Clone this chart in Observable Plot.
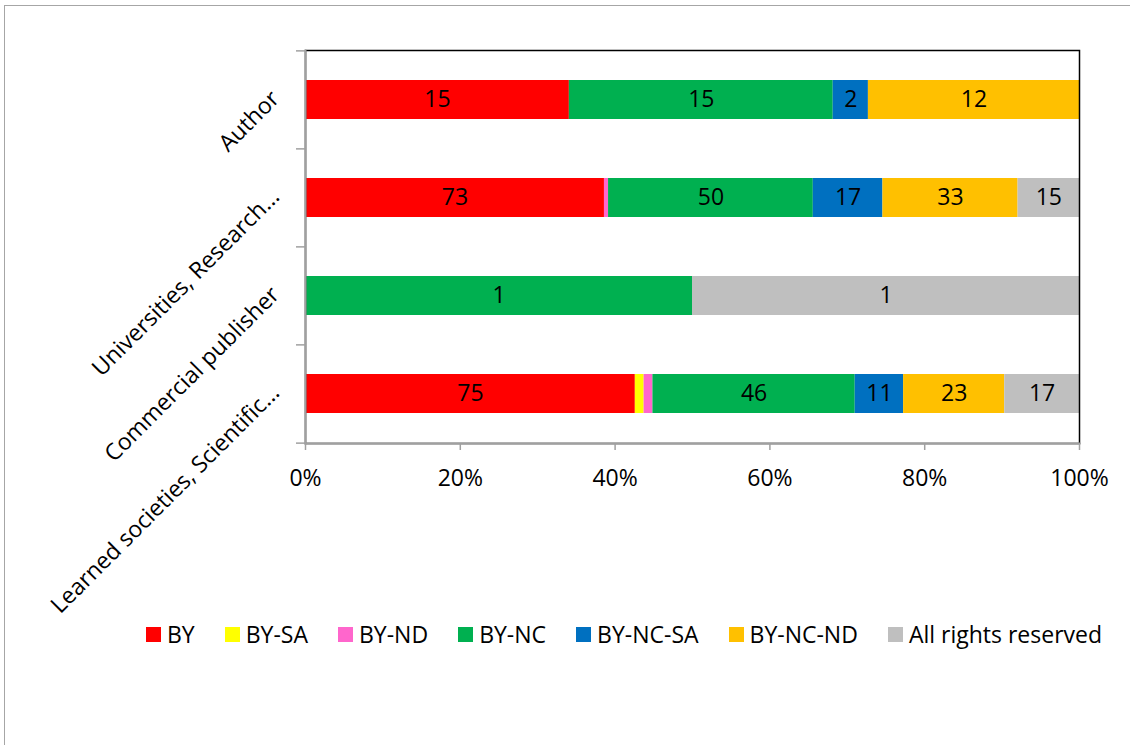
<!DOCTYPE html>
<html><head><meta charset="utf-8">
<script src="https://cdn.jsdelivr.net/npm/d3@7"></script>
<script src="https://cdn.jsdelivr.net/npm/@observablehq/plot@0.6"></script>
<style>
body{margin:0;background:#fff;font-family:"Open Sans",Lato,sans-serif;}
#frame{position:absolute;left:4px;top:5px;width:1140px;height:760px;border:1px solid #a6a6a6;box-sizing:border-box;}
#chart{position:absolute;left:0;top:0;}
#legend{position:absolute;left:146px;top:618px;display:flex;align-items:center;font-size:23px;line-height:32px;color:#000;white-space:nowrap;}
.item{display:flex;align-items:center;margin-right:30px}
.sw{width:15px;height:15px;margin-right:6px}
</style></head><body>
<div id="frame"></div><div id="chart"></div><div id="legend"></div>
<script>
const categories = ["Author", "Universities, Research...", "Commercial publisher", "Learned societies, Scientific..."];
const licenses = ["BY", "BY-SA", "BY-ND", "BY-NC", "BY-NC-SA", "BY-NC-ND", "All rights reserved"];
const colors = ["#FF0000", "#FFFF00", "#FF66CC", "#00B050", "#0070C0", "#FFC000", "#BFBFBF"];
const authorValues = [15, 0, 0, 15, 2, 12, 0];
const universitiesValues = [73, 0, 1, 50, 17, 33, 15];
const commercialValues = [0, 0, 0, 1, 0, 0, 1];
const learnedValues = [75, 2, 2, 46, 11, 23, 17];
const xTicks = [0, 0.2, 0.4, 0.6, 0.8, 1];

const seriesByCategory = [authorValues, universitiesValues, commercialValues, learnedValues];
const rows = [];
categories.forEach((c, i) => {
  const vals = seriesByCategory[i];
  const total = d3.sum(vals);
  vals.forEach((v, j) => {
    if (v > 0) rows.push({category: c, license: licenses[j], value: v, share: v / total});
  });
});

const W = 1130, H = 620, mt = 50, mb = 177, ml = 305, mr = 51;
const step = (H - mt - mb) / categories.length;
const font = "'Open Sans', Lato, sans-serif";
const fs = 23;

const chart = Plot.plot({
  width: W, height: H,
  marginTop: mt, marginBottom: mb, marginLeft: ml, marginRight: mr,
  style: {fontFamily: font, fontSize: fs + "px", color: "#000", background: "transparent", overflow: "visible"},
  x: {domain: [0, 1]},
  y: {domain: categories, paddingInner: 0.6, paddingOuter: 0.3},
  color: {domain: licenses, range: colors},
  marks: [
    Plot.barX(rows, Plot.stackX({x: "value", y: "category", fill: "license", order: licenses, offset: "normalize"})),
    Plot.text(rows, Plot.stackX({x: "value", y: "category", z: "license", order: licenses, offset: "normalize",
      text: d => d.share >= 0.03 ? String(d.value) : "", fill: "#000", fontSize: fs})),
    Plot.frame({stroke: "#000", strokeWidth: 1.5}),
    Plot.frame({anchor: "left", stroke: "#a0a0a0", strokeWidth: 2}),
    Plot.frame({anchor: "bottom", stroke: "#a0a0a0", strokeWidth: 2}),
    Plot.axisX({ticks: xTicks, tickFormat: d3.format(".0%"), tickSize: 7, tickPadding: 19, stroke: "#a0a0a0", strokeWidth: 1.5, fontSize: fs, label: null}),
    Plot.axisY(categories, {tickSize: 9, text: null, label: null, dy: -step / 2, stroke: "#a0a0a0", strokeWidth: 1.5}),
    Plot.axisY(categories.slice(-1), {tickSize: 9, text: null, label: null, dy: step / 2, stroke: "#a0a0a0", strokeWidth: 1.5}),
    Plot.text(categories, {y: d => d, frameAnchor: "left", dx: -30, dy: -5, rotate: -45, textAnchor: "end", lineAnchor: "middle", fontSize: fs, fill: "#000"})
  ]
});
document.getElementById("chart").appendChild(chart);

const legend = document.getElementById("legend");
licenses.forEach((l, i) => {
  const item = document.createElement("div");
  item.className = "item";
  const sw = document.createElement("span");
  sw.className = "sw";
  sw.style.background = colors[i];
  const t = document.createElement("span");
  t.textContent = l;
  item.appendChild(sw); item.appendChild(t);
  legend.appendChild(item);
});
</script>
</body></html>
